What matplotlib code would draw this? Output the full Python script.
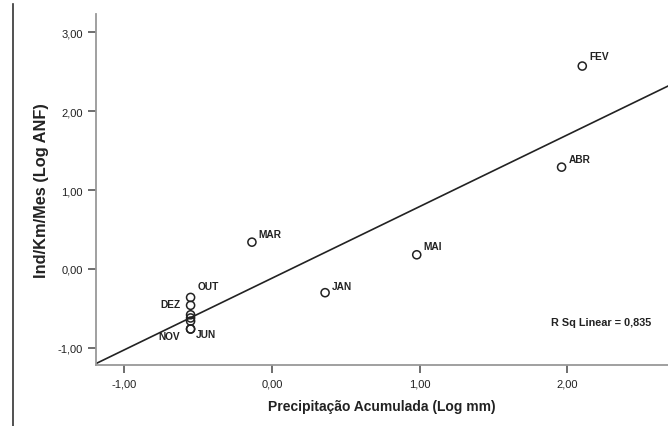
import numpy as np
import matplotlib
matplotlib.use("Agg")
import matplotlib.pyplot as plt
from matplotlib.lines import Line2D

plt.rcParams["font.family"] = ["Liberation Sans", "DejaVu Sans"]

# monthly points: log accumulated rain vs log individuals/km/month
months = ["JAN", "FEV", "MAR", "ABR", "MAI", "JUN", "JUL", "AGO", "SET", "OUT", "NOV", "DEZ"]
precip_log = [0.36, 2.10, -0.135, 1.96, 0.98, -0.55, -0.55, -0.55, -0.55, -0.55, -0.55, -0.55]
anf_log = [-0.30, 2.57, 0.34, 1.29, 0.18, -0.76, -0.62, -0.66, -0.58, -0.36, -0.76, -0.46]
labelled = ["JAN", "FEV", "MAR", "ABR", "MAI", "JUN", "OUT", "NOV", "DEZ"]
xticks = [-1.0, 0.0, 1.0, 2.0]
yticks = [-1.0, 0.0, 1.0, 2.0, 3.0]
r2_text = "R Sq Linear = 0,835"


def comma(v):
    return f"{v:.2f}".replace(".", ",")


fig = plt.figure(figsize=(6.68, 4.27), dpi=100)
ax = fig.add_axes([0.1437, 0.143, 0.8563, 0.822])

x = np.array(precip_log)
y = np.array(anf_log)
ax.scatter(x, y, s=34, facecolors="none", edgecolors="#222222", linewidths=1.1, zorder=3)

slope, icpt = np.polyfit(x, y, 1)
xl = np.array([-1.19, 2.68])
ax.plot(xl, slope * xl + icpt, color="#222222", lw=1.2, zorder=2)

# label offsets (points) to mimic the SPSS placement
offs = {"JAN": (5, 3), "FEV": (5, 5), "MAR": (5, 4), "ABR": (5, 4), "MAI": (5, 4),
        "OUT": (5, 6), "DEZ": (-22, -1), "NOV": (-23, -7), "JUN": (4, -6)}
for m, xi, yi in zip(months, x, y):
    if m in labelled:
        dx, dy = offs[m]
        ax.annotate(m, (xi, yi), xytext=(dx, dy), textcoords="offset points",
                    fontsize=7.3, fontweight="bold", color="#222222")

ax.set_xlim(-1.19, 2.68)
ax.set_ylim(-1.215, 3.23)
ax.set_xticks(xticks)
ax.set_xticklabels([comma(v) for v in xticks])
ax.set_yticks(yticks)
ax.set_yticklabels([comma(v) for v in yticks])
ax.tick_params(axis="both", direction="out", length=6, width=1.2, color="#555555",
               labelsize=8, labelcolor="#222222")
for side in ("top", "right"):
    ax.spines[side].set_visible(False)
for side in ("left", "bottom"):
    ax.spines[side].set_color("#999999")
    ax.spines[side].set_linewidth(1.3)

ax.set_xlabel("Precipitação Acumulada (Log mm)", fontsize=10, fontweight="bold",
              color="#222222", labelpad=8)
ax.set_ylabel("Ind/Km/Mes (Log ANF)", fontsize=11.8, fontweight="bold",
              color="#222222", labelpad=6)
ax.text(0.97, 0.122, r2_text, transform=ax.transAxes, ha="right", va="center",
        fontsize=7.8, fontweight="bold", color="#222222")

# page border on the left
fig.add_artist(Line2D([13 / 668, 13 / 668], [0, 1 - 5 / 427], color="#333333", lw=1.2))

fig.savefig("out.png", dpi=100)
